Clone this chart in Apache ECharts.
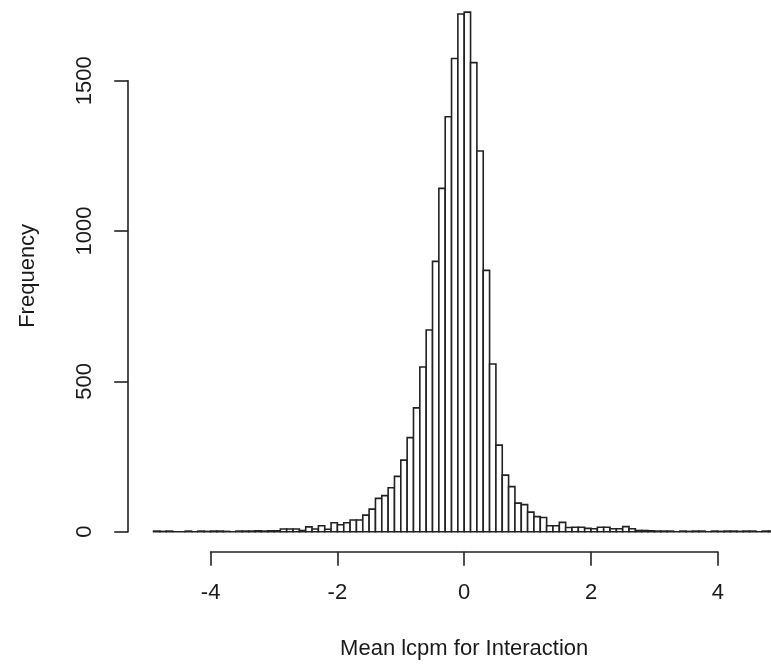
<!DOCTYPE html>
<html>
<head>
<meta charset="utf-8">
<script src="https://cdn.jsdelivr.net/npm/echarts@6/dist/echarts.min.js"></script>
<style>
html,body{margin:0;padding:0;background:#fff;}
#chart{width:771px;height:669px;}
</style>
</head>
<body>
<div id="chart"></div>
<script>
// Histogram bins (lower edges), bin width 0.1
var binLower = [-4.9,-4.8,-4.7,-4.6,-4.5,-4.4,-4.3,-4.2,-4.1,-4.0,
  -3.9,-3.8,-3.7,-3.6,-3.5,-3.4,-3.3,-3.2,-3.1,-3.0,
  -2.9,-2.8,-2.7,-2.6,-2.5,-2.4,-2.3,-2.2,-2.1,-2.0,
  -1.9,-1.8,-1.7,-1.6,-1.5,-1.4,-1.3,-1.2,-1.1,-1.0,
  -0.9,-0.8,-0.7,-0.6,-0.5,-0.4,-0.3,-0.2,-0.1,0.0,
  0.1,0.2,0.3,0.4,0.5,0.6,0.7,0.8,0.9,1.0,
  1.1,1.2,1.3,1.4,1.5,1.6,1.7,1.8,1.9,2.0,
  2.1,2.2,2.3,2.4,2.5,2.6,2.7,2.8,2.9,3.0,
  3.1,3.2,3.3,3.4,3.5,3.6,3.7,3.8,3.9,4.0,
  4.1,4.2,4.3,4.4,4.5,4.6,4.7,4.8];
var binWidth = 0.1;
var counts = [2,1,2,0,0,2,0,2,1,2,
  2,1,0,2,2,2,3,2,3,3,
  9,9,9,4,16,9,20,8,30,23,
  30,39,39,55,75,111,120,146,184,238,
  313,412,548,671,899,1142,1380,1574,1722,1728,
  1560,1266,869,558,288,188,150,95,90,65,
  50,47,20,20,31,14,15,15,11,10,
  15,15,10,10,17,10,4,4,3,2,
  2,2,0,2,1,2,2,0,2,1,
  2,2,1,2,2,0,2,2];
var xTicks = [-4, -2, 0, 2, 4];
var yTicks = [0, 500, 1000, 1500];
var xTitle = 'Mean lcpm for Interaction';
var yTitle = 'Frequency';

var histData = binLower.map(function (e, i) {
  return [e, Math.round((e + binWidth) * 10) / 10, counts[i]];
});

var FONT = '"Liberation Sans", Arial, sans-serif';
var TXT = '#1a1a1a';
var LINE = '#222';
var FS = 22;

var chart = echarts.init(document.getElementById('chart'), null, {renderer: 'canvas'});
chart.setOption({
  animation: false,
  backgroundColor: '#fff',
  grid: [
    {left: 128.2, width: 642.8, top: 80.7, height: 451},
    {left: 210.6, width: 507.2, top: -8.7, height: 560.4}
  ],
  xAxis: [
    {gridIndex: 0, type: 'value', min: -5.3, max: 4.839, show: false},
    {gridIndex: 1, type: 'value', min: xTicks[0], max: xTicks[xTicks.length - 1],
     interval: xTicks[1] - xTicks[0], position: 'bottom',
     axisLine: {show: true, onZero: false, lineStyle: {color: LINE, width: 1.6}},
     axisTick: {show: true, inside: false, length: 14, lineStyle: {color: LINE, width: 1.6}},
     axisLabel: {show: true, margin: 30, color: TXT, fontFamily: FONT, fontSize: FS,
       formatter: function (v) { return String(v); }},
     splitLine: {show: false},
     name: xTitle, nameLocation: 'middle', nameGap: 86,
     nameTextStyle: {color: TXT, fontFamily: FONT, fontSize: FS}}
  ],
  yAxis: [
    {gridIndex: 0, type: 'value', min: yTicks[0], max: yTicks[yTicks.length - 1],
     interval: yTicks[1] - yTicks[0], position: 'left',
     axisLine: {show: true, onZero: false, lineStyle: {color: LINE, width: 1.6}},
     axisTick: {show: true, inside: false, length: 14, lineStyle: {color: LINE, width: 1.6}},
     axisLabel: {show: true, rotate: 90, margin: 32, color: TXT, fontFamily: FONT, fontSize: FS,
       formatter: function (v) { return String(v); }},
     splitLine: {show: false}},
    {gridIndex: 1, type: 'value', min: 0, max: 1, position: 'left',
     axisLine: {show: false}, axisTick: {show: false}, axisLabel: {show: false},
     splitLine: {show: false},
     name: yTitle, nameLocation: 'middle', nameGap: 172,
     nameTextStyle: {color: TXT, fontFamily: FONT, fontSize: FS}}
  ],
  series: [{
    type: 'custom',
    xAxisIndex: 0,
    yAxisIndex: 0,
    clip: false,
    encode: {x: [0, 1], y: 2},
    data: histData,
    renderItem: function (params, api) {
      var p0 = api.coord([api.value(0), api.value(2)]);
      var p1 = api.coord([api.value(1), 0]);
      return {
        type: 'rect',
        shape: {x: p0[0], y: p0[1], width: p1[0] - p0[0], height: p1[1] - p0[1]},
        style: {fill: '#fff', stroke: LINE, lineWidth: 1.6}
      };
    }
  }]
});
</script>
</body>
</html>
